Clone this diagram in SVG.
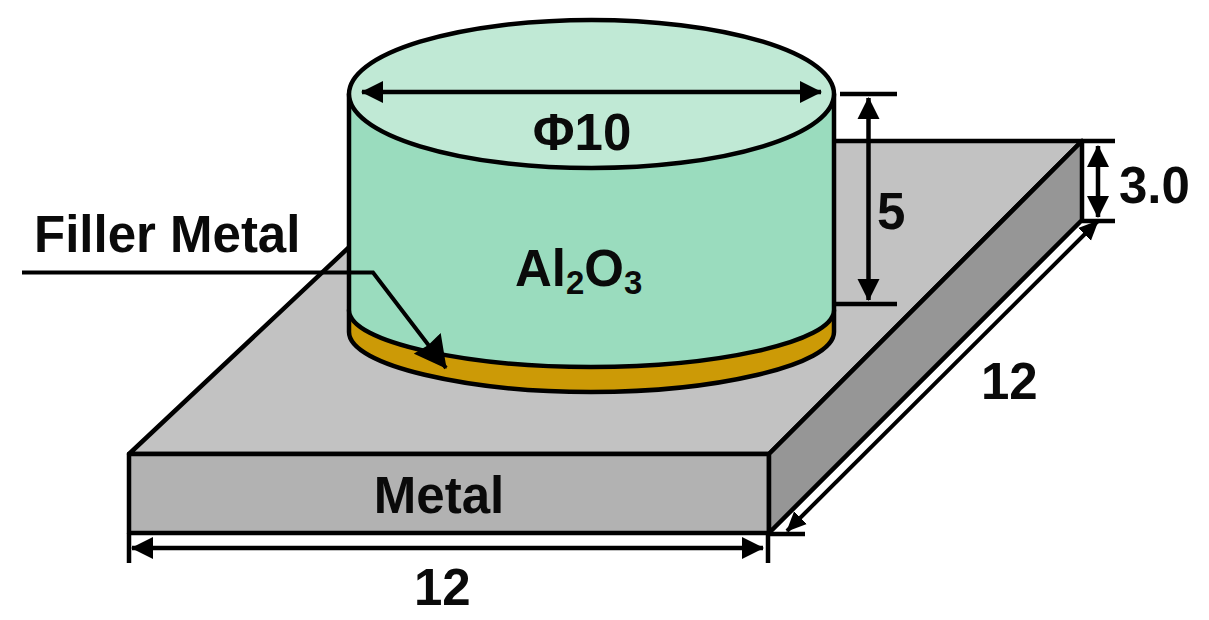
<svg xmlns="http://www.w3.org/2000/svg" width="1209" height="620" viewBox="0 0 1209 620">
<defs>
<marker id="ah" markerWidth="22" markerHeight="24" refX="21" refY="12" orient="auto-start-reverse" markerUnits="userSpaceOnUse" viewBox="0 0 22 24"><path d="M0 1L22 12L0 23z" fill="#000"/></marker>
<marker id="ahs" markerWidth="20" markerHeight="20" refX="19" refY="10" orient="auto-start-reverse" markerUnits="userSpaceOnUse" viewBox="0 0 20 20"><path d="M0 1L20 10L0 19z" fill="#000"/></marker>
<marker id="ahl" markerWidth="32" markerHeight="34" refX="31" refY="17" orient="auto" markerUnits="userSpaceOnUse" viewBox="0 0 32 34"><path d="M0 0L32 17L0 34L2 17z" fill="#000"/></marker>
</defs>
<style>
text{font-family:"Liberation Sans",Arial,sans-serif;font-weight:700;fill:#0a0a0a;font-size:51px}
.o{stroke:#000;stroke-width:4.500;stroke-linejoin:round}
.d{stroke:#000;stroke-width:4.500;fill:none}
.e{marker-start:url(#ah);marker-end:url(#ah)}
</style>
<rect width="1209" height="620" fill="#fff"/>
<g id="metal">
<path class="o" fill="#c2c2c2" d="M129 454L462 141H1082L769 454z"/>
<path class="o" fill="#b2b2b2" d="M129 454H769V533H129z"/>
<path class="o" fill="#969696" d="M769 454L1082 141V220L769 533z"/>
<text x="439" y="513" text-anchor="middle">Metal</text>
</g>
<g id="filler">
<path class="o" fill="#cc9a06" d="M349 310V332C349 366 470 392 591 392C712 392 834 366 834 332V310z"/>
</g>
<g id="ceramic">
<path class="o" fill="#9adcbe" d="M349 94V310C349 343 470 367 591 367C712 367 834 343 834 310V94z"/>
<ellipse class="o" cx="591.500" cy="94" rx="242.500" ry="74" fill="#c0e9d5"/>
<text x="582" y="150" text-anchor="middle">Φ10</text>
<text x="515" y="286">Al<tspan font-size="33" dy="8">2</tspan><tspan dy="-8">O</tspan><tspan font-size="33" dy="8">3</tspan></text>
</g>
<g id="connectors">
<path class="d e" d="M362 92H821"/>
<path class="d" stroke-width="5" d="M840 94H897M834 304H897M1082 141H1115M1082 221H1115M768 533V563M129 533V563M768 534H805"/>
<path class="d e" d="M868.500 98V300"/>
<path class="d e" d="M1098 146V217"/>
<path class="d e" d="M132 548H763"/>
<path d="M22 272.500H373L446 368" stroke="#000" stroke-width="4" fill="none" marker-end="url(#ahl)"/>
<path d="M787 531L1098 221" stroke="#000" stroke-width="4" fill="none" marker-start="url(#ahs)" marker-end="url(#ahs)"/>
</g>
<g id="labels">
<text x="34" y="252">Filler Metal</text>
<text x="877" y="229">5</text>
<text x="1119" y="203">3.0</text>
<text x="981" y="399">12</text>
<text x="414" y="605">12</text>
</g>
</svg>
